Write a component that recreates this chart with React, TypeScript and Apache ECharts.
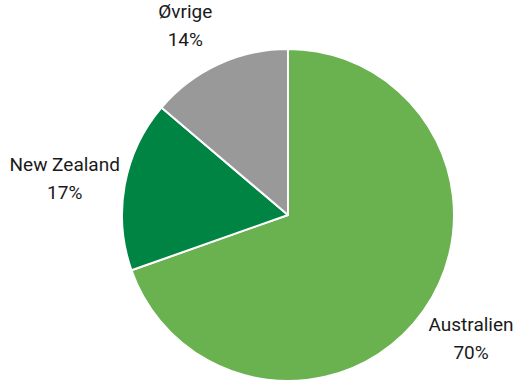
import React, { useEffect, useRef } from "react";
import * as echarts from "echarts";

const categories = ["Australien", "New Zealand", "Øvrige"];
const values = [69.6, 16.6, 13.8];
const percentLabels = ["70%", "17%", "14%"];
const colors = ["#6ab150", "#008443", "#999999"];

const labelNudge: [number, number][] = [
  [1, -5],
  [-4, 4],
  [-9, 13],
];

export default function App() {
  const ref = useRef<HTMLDivElement>(null);
  useEffect(() => {
    document.body.style.margin = "0";
    const chart = echarts.init(ref.current!, null, { renderer: "svg" });
    const data = categories.map((name, i) => ({
      name,
      value: values[i],
      itemStyle: { color: colors[i] },
    }));
    const labelData = categories.map((name, i) => ({
      name,
      value: values[i],
      label: { formatter: name + "\n" + percentLabels[i] },
    }));
    chart.setOption({
      animation: false,
      series: [
        {
          type: "pie",
          center: [288, 215],
          radius: [0, 166],
          startAngle: 90,
          clockwise: true,
          silent: true,
          label: { show: false },
          labelLine: { show: false },
          itemStyle: { borderColor: "#ffffff", borderWidth: 2 },
          data,
        },
        {
          type: "pie",
          center: [288, 215],
          radius: [210, 230],
          startAngle: 90,
          clockwise: true,
          silent: true,
          itemStyle: { color: "transparent" },
          labelLine: { show: false },
          labelLayout: (p: any) => ({
            dx: labelNudge[p.dataIndex][0],
            dy: labelNudge[p.dataIndex][1],
          }),
          label: {
            show: true,
            position: "inside",
            color: "#1a1a1a",
            fontFamily: "Roboto",
            fontSize: 19,
            lineHeight: 28,
            align: "center",
          },
          data: labelData,
        },
      ],
    });
    return () => chart.dispose();
  }, []);
  return <div ref={ref} style={{ width: 514, height: 382 }} />;
}
